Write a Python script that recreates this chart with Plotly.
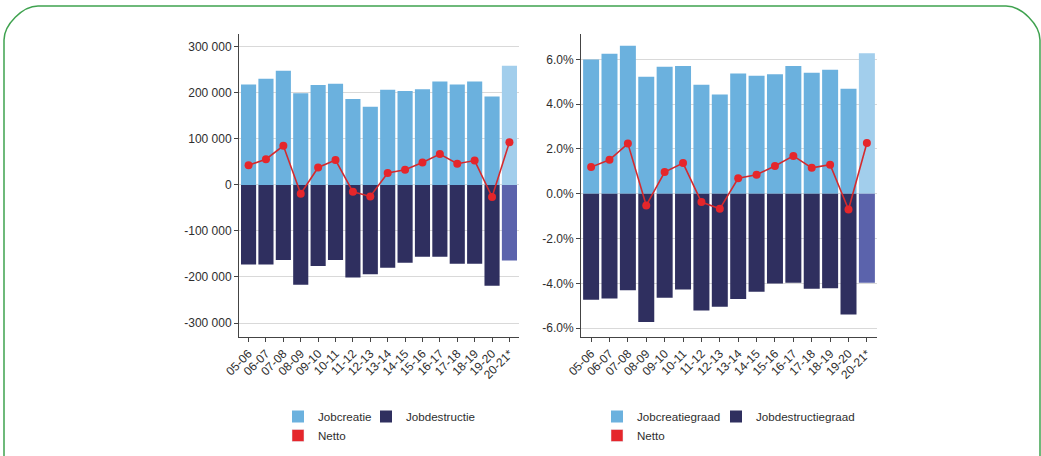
import plotly.graph_objects as go

# ---- data -------------------------------------------------------------
periods = ["05-06", "06-07", "07-08", "08-09", "09-10", "10-11", "11-12", "12-13",
           "13-14", "14-15", "15-16", "16-17", "17-18", "18-19", "19-20", "20-21*"]

jobcreatie = [218000, 231000, 248000, 199000, 217000, 220000, 187000, 170000,
              207000, 204000, 208000, 225000, 218000, 225000, 192000, 259000]
jobdestructie = [-173000, -173000, -163000, -217000, -176000, -163000, -201000, -194000,
                 -180000, -169000, -156000, -156000, -171000, -171000, -219000, -164000]
netto = [43000, 56000, 85000, -19000, 38000, 54000, -15000, -25000,
         26000, 33000, 49000, 67000, 46000, 53000, -26000, 93000]

creatiegraad = [5.99, 6.25, 6.61, 5.22, 5.67, 5.70, 4.87, 4.43,
                5.37, 5.27, 5.33, 5.70, 5.40, 5.54, 4.69, 6.27]
destructiegraad = [-4.73, -4.67, -4.30, -5.72, -4.64, -4.27, -5.21, -5.04,
                   -4.69, -4.37, -4.00, -3.97, -4.24, -4.21, -5.39, -3.97]
netto_graad = [1.19, 1.52, 2.24, -0.52, 0.97, 1.37, -0.37, -0.67,
               0.69, 0.85, 1.24, 1.69, 1.16, 1.30, -0.70, 2.27]

left_tickvals = [-300000, -200000, -100000, 0, 100000, 200000, 300000]
left_ticktext = ["-300 000", "-200 000", "-100 000", "0", "100 000", "200 000", "300 000"]
right_tickvals = [-6, -4, -2, 0, 2, 4, 6]
right_ticktext = ["-6.0%", "-4.0%", "-2.0%", "0.0%", "2.0%", "4.0%", "6.0%"]

# ---- styling ----------------------------------------------------------
W, H = 1041, 456
FONT = "Liberation Sans, Arial, sans-serif"
C_CREATE, C_CREATE_LAST = "#6BB1DE", "#A2CEEC"
C_DESTR, C_DESTR_LAST = "#2F2F5F", "#5B63AC"
C_NET = "#E5262B"
TXT = "#2E2E2E"
FS = 12
FS_LEG = 11.6

n = len(periods)
create_cols = [C_CREATE] * (n - 1) + [C_CREATE_LAST]
destr_cols = [C_DESTR] * (n - 1) + [C_DESTR_LAST]


def px_x(v):
    return v / W


def px_y(v):
    return 1 - v / H


fig = go.Figure()


def add_panel(xa, ya, leg_a, leg_b, create, destr, net, name_c, name_d):
    fig.add_trace(go.Bar(x=periods, y=create, name=name_c, marker=dict(color=create_cols, line_width=0),
                         xaxis=xa, yaxis=ya, legend=leg_a))
    fig.add_trace(go.Bar(x=periods, y=destr, name=name_d, marker=dict(color=destr_cols, line_width=0),
                         xaxis=xa, yaxis=ya, legend=leg_b))
    fig.add_trace(go.Scatter(x=periods, y=net, mode="lines+markers", name="Netto",
                             line=dict(color="#D42A2E", width=1.6),
                             marker=dict(color=C_NET, size=8),
                             xaxis=xa, yaxis=ya, showlegend=False))
    # legend swatch for the net line
    fig.add_trace(go.Bar(x=[None], y=[None], name="Netto", marker=dict(color=C_NET),
                         xaxis=xa, yaxis=ya, legend=leg_a))


add_panel("x", "y", "legend", "legend2", jobcreatie, jobdestructie, netto,
          "Jobcreatie", "Jobdestructie")
add_panel("x2", "y2", "legend3", "legend4", creatiegraad, destructiegraad, netto_graad,
          "Jobcreatiegraad", "Jobdestructiegraad")

ydom = [px_y(337), px_y(34)]
axis_common = dict(showline=True, linecolor="#444444", linewidth=1, ticks="outside",
                   tickcolor="#444444", ticklen=4, automargin=False,
                   tickfont=dict(family=FONT, size=FS, color=TXT))


def legend_at(xpx):
    return dict(orientation="v", x=px_x(xpx), y=px_y(402), xanchor="left", yanchor="top",
                font=dict(family=FONT, size=FS_LEG, color=TXT), bgcolor="rgba(0,0,0,0)",
                tracegroupgap=0)


fig.update_layout(
    width=W, height=H,
    margin=dict(l=0, r=0, t=0, b=0, autoexpand=False),
    paper_bgcolor="white", plot_bgcolor="white",
    barmode="relative", bargap=0.13,
    font=dict(family=FONT, size=FS, color=TXT),
    showlegend=True,
    xaxis=dict(domain=[px_x(239), px_x(519)], anchor="y", type="category",
               range=[-0.55, 15.55], tickangle=-45, showgrid=False, **axis_common),
    yaxis=dict(domain=ydom, anchor="x", range=[-330400, 328000],
               tickvals=left_tickvals, ticktext=left_ticktext,
               showgrid=True, gridcolor="#D9D9D9", gridwidth=1, zeroline=False, **axis_common),
    xaxis2=dict(domain=[px_x(581), px_x(877)], anchor="y2", type="category",
                range=[-0.55, 15.55], tickangle=-45, showgrid=False, **axis_common),
    yaxis2=dict(domain=ydom, anchor="x2", range=[-6.39, 7.13],
                tickvals=right_tickvals, ticktext=right_ticktext,
                showgrid=True, gridcolor="#D9D9D9", gridwidth=1, zeroline=False, **axis_common),
    legend=legend_at(278),
    legend2=legend_at(366),
    legend3=legend_at(597),
    legend4=legend_at(716),
)

# rounded green frame around the figure (open at the bottom)
r = 34
L, T, R, B = 4, 6, 1040, 470
k = 0.45 * r
path = (f"M {px_x(L)},{px_y(B)} L {px_x(L)},{px_y(T + r)} "
        f"C {px_x(L)},{px_y(T + r - k)} {px_x(L + r - k)},{px_y(T)} {px_x(L + r)},{px_y(T)} "
        f"L {px_x(R - r)},{px_y(T)} "
        f"C {px_x(R - r + k)},{px_y(T)} {px_x(R)},{px_y(T + r - k)} {px_x(R)},{px_y(T + r)} "
        f"L {px_x(R)},{px_y(B)}")
fig.add_shape(type="path", path=path, xref="paper", yref="paper",
              line=dict(color="#3FA24F", width=1.5), layer="above")

fig.write_html("out.html")
